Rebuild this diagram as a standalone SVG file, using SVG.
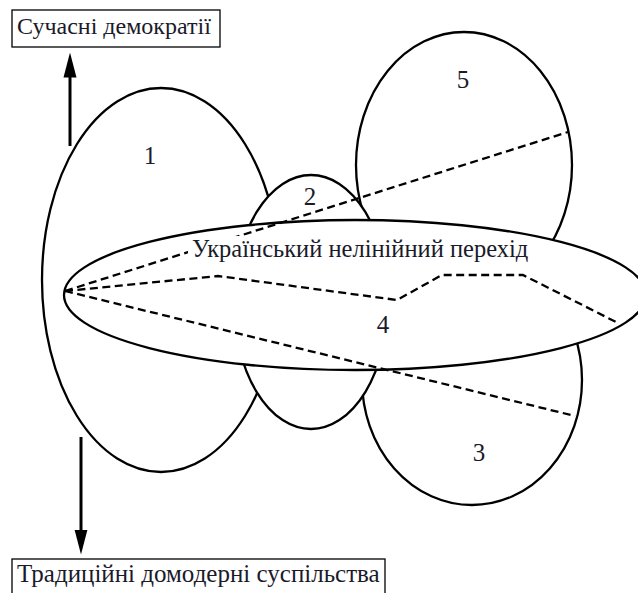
<svg xmlns="http://www.w3.org/2000/svg" width="638" height="593" viewBox="0 0 638 593">
<defs>
<style>
.shape{fill:#fff;stroke:#000;stroke-width:2.3}
.box{fill:#fff;stroke:#000;stroke-width:1.3}
.dash{fill:none;stroke:#000;stroke-width:2.3;stroke-dasharray:8 4.5}
.arrow{stroke:#000;stroke-width:3;fill:none}
.lbl{font-family:"Liberation Serif","Times New Roman",serif;font-size:24px;fill:#1a1a2a}
.num{font-family:"Liberation Serif","Times New Roman",serif;font-size:25px;text-anchor:middle;fill:#1a1a2a}
</style>
<marker id="ah" markerUnits="userSpaceOnUse" viewBox="0 0 25 14" markerWidth="25" markerHeight="14" refX="0.5" refY="7" orient="auto"><path d="M0,0.5 L25,7 L0,13.5 Z" fill="#000"/></marker>
</defs>
<rect width="638" height="593" fill="#fff"/>
<g id="node1"><ellipse class="shape" cx="161" cy="280" rx="119" ry="192"/><text class="num" x="150" y="164">1</text></g>
<g id="node3"><ellipse class="shape" cx="472" cy="380" rx="110" ry="125"/><text class="num" x="479" y="461">3</text></g>
<g id="node5"><ellipse class="shape" cx="464" cy="165" rx="108" ry="133"/><text class="num" x="463" y="88">5</text></g>
<g id="node2"><ellipse class="shape" cx="311" cy="302" rx="77" ry="127"/><text class="num" x="310" y="205">2</text></g>
<g id="node4"><ellipse class="shape" cx="355" cy="295" rx="291" ry="75"/><text class="num" x="383" y="333">4</text></g>
<g id="node-top"><rect class="box" x="12" y="10" width="208" height="37"/><text class="lbl" x="17" y="34">Сучасні демократії</text></g>
<g id="node-bottom"><rect class="box" x="12" y="559" width="373" height="45"/><text class="lbl" x="17" y="582" style="font-size:25px">Традиційні домодерні суспільства</text></g>
<g id="connectors">
<path class="dash" d="M65,291 L568,132"/>
<path class="dash" d="M65,291 L218,276 L397,300 L442,275 L523,275 L618,323"/>
<path class="dash" d="M65,291 L575,416"/>
<path class="arrow" d="M70,146 L70,77" marker-end="url(#ah)"/>
<path class="arrow" d="M81,437 L81,530" marker-end="url(#ah)"/>
</g>
<g id="node4-title"><rect x="188" y="236" width="342" height="26" fill="#fff"/><text class="lbl" x="192" y="257" style="font-size:24.5px">Український нелінійний перехід</text></g>
</svg>
